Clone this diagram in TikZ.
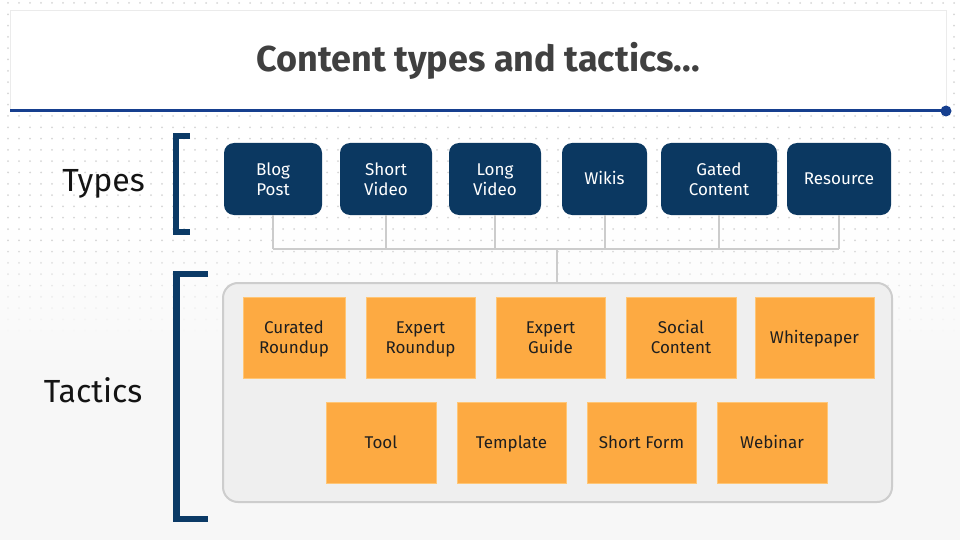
\documentclass[tikz,border=0pt]{standalone}
\usepackage{fontspec}
\setmainfont{Fira Sans}
\definecolor{navy}{HTML}{0B3861}
\definecolor{bracketc}{HTML}{0B3A66}
\definecolor{orangebox}{HTML}{FDAA42}
\definecolor{orangeedge}{HTML}{FFC676}
\definecolor{lineblue}{HTML}{163F8F}
\definecolor{connc}{HTML}{CCCCCC}
\definecolor{contfill}{HTML}{EFEFEF}
\definecolor{contedge}{HTML}{CDCDCD}
\definecolor{dotc}{HTML}{D6D6D6}
\definecolor{bgbot}{HTML}{F7F7F7}
\definecolor{titlec}{HTML}{404040}
\definecolor{boxedge}{HTML}{EBEBEB}
\newcommand{\strutline}[1]{#1\rule[-4pt]{0pt}{20pt}}
\tikzset{
  typebox/.style={rounded corners=10pt, fill=navy, text=white, align=center,
    minimum height=72pt, inner sep=0pt, font=\fontsize{17}{20}\selectfont},
  tacbox/.style={fill=orangebox, draw=orangeedge, line width=0.8pt, text=black!88, align=center,
    minimum height=81pt, inner sep=0pt, font=\fontsize{17}{20.5}\selectfont},
  conn/.style={draw=connc, line width=2pt},
  brack/.style={draw=bracketc, line width=6.5pt, line join=miter},
  sidelabel/.style={text=black!92, font=\fontsize{32}{36}\selectfont, inner sep=0pt}
}
\begin{document}
\begin{tikzpicture}[x=1pt,y=-1pt]
\useasboundingbox (0,0) rectangle (960,540);
% background
\fill[white] (0,0) rectangle (960,540);
\shade[top color=white, bottom color=bgbot] (0,220) rectangle (960,380);
\fill[bgbot] (0,380) rectangle (960,540);
% dot grid
\foreach \j in {0,...,30}{
  \pgfmathsetmacro\yy{3+11.3*\j}
  \pgfmathsetmacro\op{min(1,max(0,(335-\yy)/95))}
  \foreach \i in {0,...,86}{
    \fill[dotc, opacity=\op] (8+11*\i,\yy) circle (1);
  }
}
% title
\node (titlebox) [draw=boxedge, fill=white, line width=0.8pt, minimum width=936pt, minimum height=100pt, inner sep=0pt, anchor=north west] at (10,10) {};
\node (title) [text=titlec, font=\fontsize{36}{40}\selectfont\bfseries] at (478,61) {Content types and tactics...};
\coordinate (lineL) at (10,111);
\coordinate (lineR) at (946,111);
\draw[lineblue, line width=3pt] (lineL) -- (lineR);
\fill[lineblue] (lineR) circle (5.5);
% side labels
\node (typeslbl) [sidelabel] at (103.5,184) {Types};
\node (tacticslbl) [sidelabel] at (93,390) {Tactics};
% brackets
\draw[brack] (190,136) -- (176,136) -- (176,232) -- (190,232);
\draw[brack] (208,274) -- (176.5,274) -- (176.5,519) -- (208,519);
% tactics container
\node (tactics) [draw=contedge, fill=contfill, line width=2pt, rounded corners=15pt, minimum width=669pt, minimum height=219pt, inner sep=0pt] at (557.5,392.5) {};
% type boxes
\node (blog) [typebox, minimum width=98pt] at (273,179) {\strutline{Blog}\\\strutline{Post}};
\node (short) [typebox, minimum width=92pt] at (386,179) {\strutline{Short}\\\strutline{Video}};
\node (long) [typebox, minimum width=92pt] at (495,179) {\strutline{Long}\\\strutline{Video}};
\node (wikis) [typebox, minimum width=85pt] at (604.5,179) {\strutline{Wikis}};
\node (gated) [typebox, minimum width=116pt] at (719,179) {\strutline{Gated}\\\strutline{Content}};
\node (res) [typebox, minimum width=104pt] at (839,179) {\strutline{Resource}};
% connectors
\coordinate (bus) at (557,249);
\foreach \n in {blog,short,long,wikis,gated,res}{
  \draw[conn] (\n.south) -- (\n.south |- bus);
}
\draw[conn] (blog.south |- bus) -- (res.south |- bus);
\draw[conn] (bus) -- (bus |- tactics.north);
% tactic boxes row 1
\node (curated) [tacbox, minimum width=102pt] at (294,337.5) {\strutline{Curated}\\\strutline{Roundup}};
\node (exround) [tacbox, minimum width=109pt] at (420.5,337.5) {\strutline{Expert}\\\strutline{Roundup}};
\node (exguide) [tacbox, minimum width=109pt] at (550.5,337.5) {\strutline{Expert}\\\strutline{Guide}};
\node (social) [tacbox, minimum width=110pt] at (681,337.5) {\strutline{Social}\\\strutline{Content}};
\node (white) [tacbox, minimum width=119pt] at (814.5,337.5) {\strutline{Whitepaper}};
% row 2
\node (tool) [tacbox, minimum width=110pt] at (381,442.5) {\strutline{Tool}};
\node (templ) [tacbox, minimum width=109pt] at (511.5,442.5) {\strutline{Template}};
\node (shortform) [tacbox, minimum width=109pt] at (641.5,442.5) {\strutline{Short Form}};
\node (webinar) [tacbox, minimum width=110pt] at (772,442.5) {\strutline{Webinar}};
\end{tikzpicture}
\end{document}
